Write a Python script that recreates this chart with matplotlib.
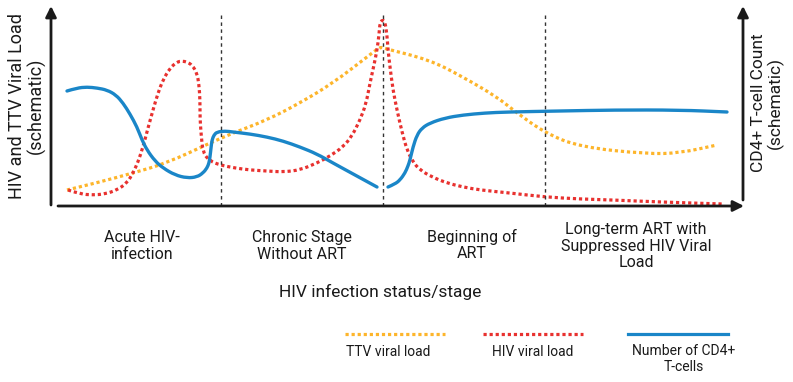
import matplotlib
matplotlib.use("Agg")
import matplotlib.pyplot as plt
from matplotlib.path import Path
from matplotlib.patches import PathPatch

plt.rcParams['font.family'] = ['Roboto', 'DejaVu Sans']

# ======================
# 曲线数据（示意图，像素坐标读取）
# ======================
ttv_x = [67, 100, 133, 167, 210, 233, 267, 300, 333, 367, 380,
         383, 430, 463, 497, 513, 545, 580, 647, 680, 717]
ttv_y = [190, 182, 173, 163, 143, 133, 120, 103, 83, 57, 47,
         48, 60, 77, 97, 110, 133, 147, 154, 153, 145]

hiv_x = [68, 80, 93, 105, 117, 127, 133, 138, 143, 148, 153, 158, 163, 170, 177, 182, 187,
         192, 197, 199, 200, 200, 201, 203, 210, 220, 235, 250, 267, 283, 300, 317, 330,
         343, 352, 360, 366, 370, 374, 377, 379, 380,
         383, 385, 387, 388, 390, 393, 397, 402, 407, 413, 420, 432, 447, 463, 480,
         510, 545, 580, 613, 660, 723]
hiv_y = [190, 194, 195, 194, 190, 183, 173, 162, 147, 128, 110, 93, 80, 68, 62, 61, 62,
         65, 73, 85, 100, 118, 133, 153, 161, 165, 168, 170, 171, 172, 170, 163, 156,
         147, 136, 120, 104, 83, 65, 50, 35, 22,
         20, 22, 35, 50, 67, 90, 110, 132, 150, 162, 170, 177, 183, 187, 190,
         193, 197, 199, 200, 202, 204]

cd4_x1 = [67, 77, 87, 97, 107, 116, 123, 130, 137, 142, 147, 155, 163, 175, 187, 197, 203,
          207, 209, 210, 211, 212, 214, 217, 225, 233, 250, 267, 283, 300, 317, 333, 355, 377]
cd4_y1 = [91, 88, 87, 88, 90, 95, 103, 114, 127, 140, 150, 161, 168, 175, 178, 177, 173,
          168, 163, 157, 148, 140, 135, 132, 131, 132, 134, 137, 141, 147, 154, 163, 175, 187]
cd4_x2 = [388, 395, 400, 405, 408, 410, 413, 417, 422, 430, 445, 463, 485, 507, 560, 613, 680, 727]
cd4_y2 = [187, 184, 180, 173, 166, 160, 147, 135, 128, 123, 118, 115, 113, 112, 111, 110, 110, 112]

stage_x = [221, 383, 545]
stage_labels = ['Acute HIV-\ninfection', 'Chronic Stage\nWithout ART',
                'Beginning of\nART', 'Long-term ART with\nSuppressed HIV Viral\nLoad']
stage_label_x = [142, 302, 472, 636]
stage_label_y = [246, 246, 245, 246]

series_names = ['TTV viral load', 'HIV viral load', 'Number of CD4+\nT-cells']
series_colors = ['#FDB52B', '#E8312F', '#1A86C8']


def smooth_path(xs, ys):
    # 用二次贝塞尔曲线平滑连接各点（控制点为数据点，端点为中点）
    pts = list(zip(xs, ys))
    verts = [pts[0]]
    codes = [Path.MOVETO]
    for i in range(1, len(pts) - 1):
        mid = ((pts[i][0] + pts[i + 1][0]) / 2, (pts[i][1] + pts[i + 1][1]) / 2)
        verts += [pts[i], mid]
        codes += [Path.CURVE3, Path.CURVE3]
    verts.append(pts[-1])
    codes.append(Path.LINETO)
    return Path(verts, codes)


# ======================
# 绘图
# ======================
fig = plt.figure(figsize=(7.93, 3.82), dpi=100)
ax = fig.add_axes([0, 0, 1, 1])
ax.set_xlim(0, 793)
ax.set_ylim(382, 0)
ax.axis('off')

dot = (0, (1, 0.9))
ax.add_patch(PathPatch(smooth_path(ttv_x, ttv_y), fill=False, ec=series_colors[0], lw=2.3, ls=dot))
ax.add_patch(PathPatch(smooth_path(hiv_x, hiv_y), fill=False, ec=series_colors[1], lw=2.3, ls=dot))
ax.add_patch(PathPatch(smooth_path(cd4_x1, cd4_y1), fill=False, ec=series_colors[2], lw=2.4,
                       capstyle='round', joinstyle='round'))
ax.add_patch(PathPatch(smooth_path(cd4_x2, cd4_y2), fill=False, ec=series_colors[2], lw=2.4,
                       capstyle='round', joinstyle='round'))

# 分期虚线
for sx in stage_x:
    ax.plot([sx, sx], [15, 206], color='#333333', lw=1, ls=(0, (2.5, 2.5)))

# 坐标轴箭头
arrow = dict(arrowstyle='-|>', color='#1a1a1a', lw=2, mutation_scale=16, shrinkA=0, shrinkB=0)
ax.annotate('', xy=(51, 6), xytext=(51, 205), arrowprops=arrow)
ax.annotate('', xy=(744, 206), xytext=(58, 206), arrowprops=arrow)
ax.annotate('', xy=(743, 6), xytext=(743, 200), arrowprops=arrow)

# 轴标签
ax.text(27, 106, 'HIV and TTV Viral Load\n(schematic)', rotation=90, ha='center', va='center',
        fontsize=13, color='#1a1a1a', linespacing=1.1)
ax.text(767, 103, 'CD4+ T-cell Count\n(schematic)', rotation=90, ha='center', va='center',
        fontsize=12.5, color='#1a1a1a', linespacing=1.05)

for lab, lx, ly in zip(stage_labels, stage_label_x, stage_label_y):
    ax.text(lx, ly, lab, ha='center', va='center', fontsize=11.5, color='#1a1a1a', linespacing=1.1)

ax.text(380, 292, 'HIV infection status/stage', ha='center', va='center', fontsize=12.5, color='#1a1a1a')

# 图例
legend_x0 = [345, 483, 628]
legend_text_x = [388, 533, 684]
for i in range(3):
    ls = '-' if i == 2 else dot
    ax.plot([legend_x0[i], legend_x0[i] + 100], [334, 334], color=series_colors[i], lw=2.3, ls=ls)
    ax.text(legend_text_x[i], 352 if i < 2 else 359, series_names[i], ha='center', va='center',
            fontsize=10, color='#1a1a1a', linespacing=1.15)

fig.savefig('out.png', dpi=100)
